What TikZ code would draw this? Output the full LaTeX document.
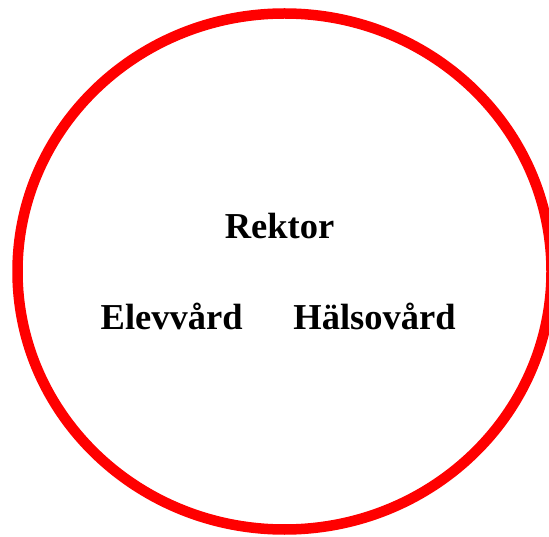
\documentclass[tikz,border=0pt]{standalone}
\usepackage{fontspec}
\setmainfont{Liberation Serif}
\begin{document}
\begin{tikzpicture}[x=1pt,y=1pt,
  lbl/.style={font=\fontsize{36.5}{43}\selectfont\bfseries, anchor=base, inner sep=0pt}]
\useasboundingbox (0,0) rectangle (549,536);
\draw[red, line width=10.5pt] (284.5,264.5) ellipse [x radius=267, y radius=258];
\node[lbl] (rektor) at (279.5,297.5) {Rektor};
\node[lbl] (elev) at (171.7,206) {Elevvård};
\node[lbl] (halsa) at (374.5,206) {Hälsovård};
\end{tikzpicture}
\end{document}
